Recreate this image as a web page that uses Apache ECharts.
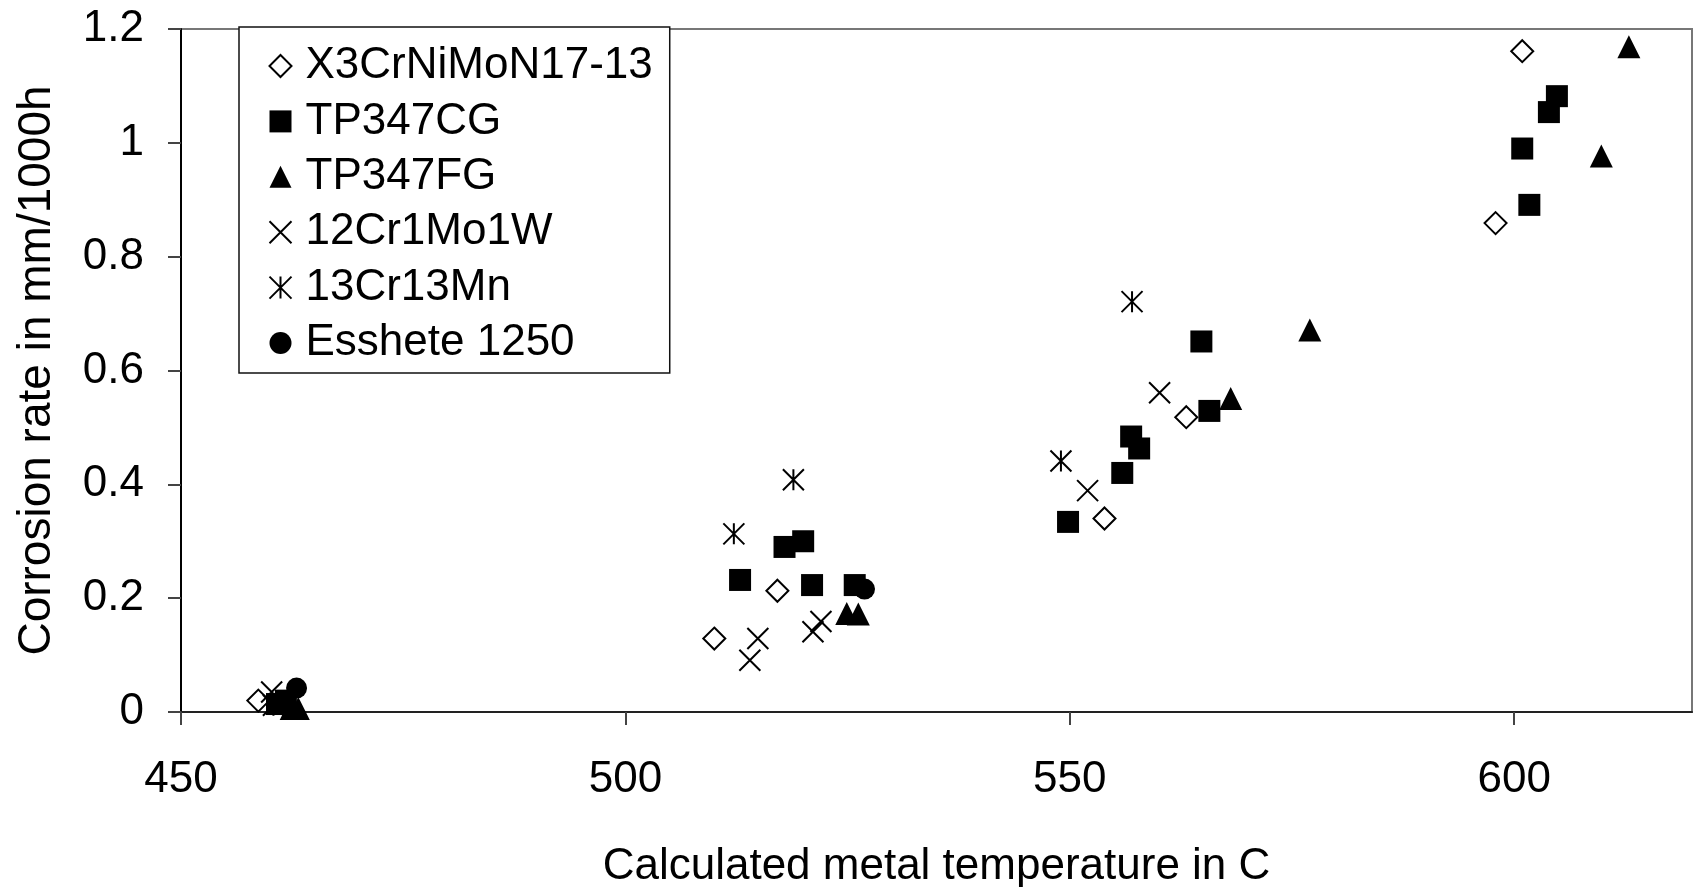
<!DOCTYPE html>
<html>
<head>
<meta charset="utf-8">
<script src="https://cdn.jsdelivr.net/npm/echarts@6/dist/echarts.min.js"></script>
<style>
html,body{margin:0;padding:0;background:#fff;}
#chart{width:1694px;height:887px;}
</style>
</head>
<body>
<div id="chart"></div>
<script>
// ---- data ----
const seriesNames = ["X3CrNiMoN17-13", "TP347CG", "TP347FG", "12Cr1Mo1W", "13Cr13Mn", "Esshete 1250"];
const x3CrNiMoN = [[458.7,0.020],[510.0,0.129],[517.1,0.213],[553.9,0.340],[563.1,0.518],[597.9,0.859],[600.9,1.161]];
const tp347CG = [[460.8,0.014],[461.8,0.020],[512.9,0.232],[517.9,0.290],[520.0,0.300],[521.0,0.223],[525.8,0.223],[549.8,0.334],[555.9,0.420],[556.9,0.484],[557.8,0.463],[564.8,0.651],[565.7,0.529],[600.9,0.990],[601.7,0.891],[603.9,1.054],[604.8,1.082]];
const tp347FG = [[462.4,0.006],[463.2,0.006],[524.9,0.173],[526.2,0.172],[568.1,0.551],[577.0,0.671],[609.8,0.977],[612.9,1.169]];
const cr12Mo1W = [[460.2,0.035],[514.0,0.091],[514.9,0.129],[521.1,0.141],[522.0,0.159],[552.0,0.389],[560.1,0.561]];
const cr13Mn = [[460.4,0.012],[512.2,0.313],[518.9,0.408],[549.0,0.441],[557.0,0.721]];
const esshete = [[463.0,0.042],[526.9,0.216]];
const xTicks = [450, 500, 550, 600];
const yTicks = [0, 0.2, 0.4, 0.6, 0.8, 1, 1.2];
const xTitle = "Calculated metal temperature in C";
const yTitle = "Corrosion rate in mm/1000h";

const FONT = '"Liberation Sans", Arial, sans-serif';
const chart = echarts.init(document.getElementById('chart'), null, {renderer: 'canvas'});

const crossPath = 'path://M0,0L10,10M10,0L0,10';
const asteriskPath = 'path://M0,0L10,10M10,0L0,10M5,0L5,10';

function sc(name, data, symbol, size, filled) {
  return {
    name: name,
    type: 'scatter',
    data: data,
    symbol: symbol,
    symbolSize: size,
    itemStyle: filled ? {color: '#000', borderColor: '#000', borderWidth: 0, opacity: 1}
                      : {color: symbol === 'diamond' ? '#fff' : 'none', borderColor: '#000', borderWidth: 2, opacity: 1},
    emphasis: {disabled: true}
  };
}

chart.setOption({
  animation: false,
  backgroundColor: '#fff',
  grid: {left: 181, right: 2, top: 29, bottom: 175, outerBoundsMode: 'none', containLabel: false,
         show: true, borderColor: '#777', borderWidth: 2, backgroundColor: 'transparent'},
  legend: {
    show: true,
    left: 239, top: 27,
    orient: 'vertical',
    backgroundColor: '#fff',
    borderColor: '#111', borderWidth: 1.5, borderRadius: 0,
    padding: [17, 17, 8, 28],
    itemWidth: 22, itemHeight: 22,
    itemGap: 11.4,
    textStyle: {fontFamily: FONT, fontSize: 44, color: '#000', padding: [0, 0, 0, 9]},
    data: seriesNames
  },
  xAxis: {
    type: 'value', min: 450, max: 620,
    name: xTitle, nameLocation: 'middle', nameGap: 133,
    nameTextStyle: {fontFamily: FONT, fontSize: 44, color: '#000'},
    axisLine: {show: true, onZero: false, lineStyle: {color: '#222', width: 2}},
    axisTick: {show: true, length: 13, lineStyle: {color: '#444', width: 2}, customValues: xTicks},
    axisLabel: {fontFamily: FONT, fontSize: 44, color: '#000', margin: 46, customValues: xTicks},
    splitLine: {show: false}
  },
  yAxis: {
    type: 'value', min: 0, max: 1.2,
    name: yTitle, nameLocation: 'middle', nameGap: 121,
    nameTextStyle: {fontFamily: FONT, fontSize: 46, color: '#000'},
    axisLine: {show: true, onZero: false, lineStyle: {color: '#000', width: 2}},
    axisTick: {show: true, length: 13, lineStyle: {color: '#444', width: 2}, customValues: yTicks},
    axisLabel: {fontFamily: FONT, fontSize: 44, color: '#000', margin: 37, customValues: yTicks},
    splitLine: {show: false}
  },
  series: [
    sc(seriesNames[0], x3CrNiMoN, 'diamond', 22, false),
    sc(seriesNames[1], tp347CG, 'rect', 22, true),
    sc(seriesNames[2], tp347FG, 'triangle', 23, true),
    sc(seriesNames[3], cr12Mo1W, crossPath, 21, false),
    sc(seriesNames[4], cr13Mn, asteriskPath, 21, false),
    sc(seriesNames[5], esshete, 'circle', 21, true)
  ]
});
</script>
</body>
</html>
